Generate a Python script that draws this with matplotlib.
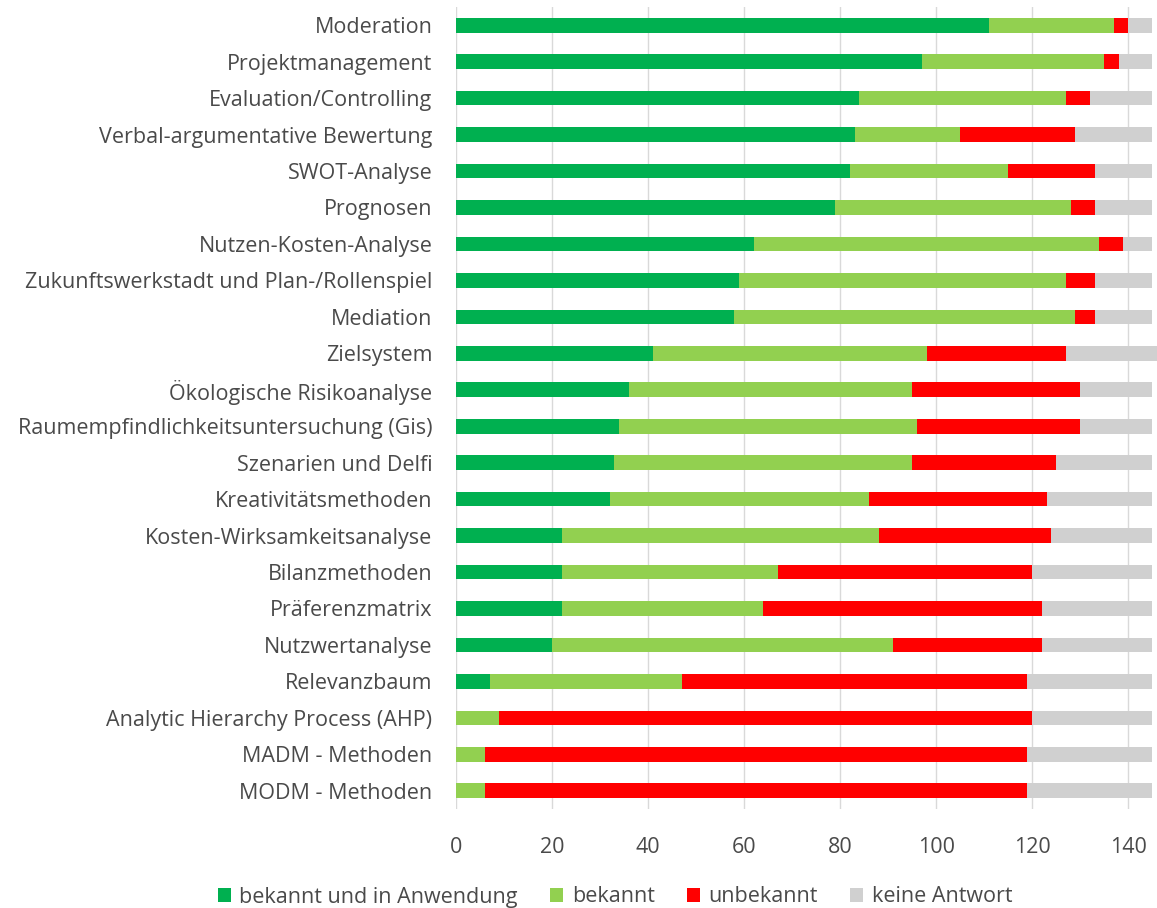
"""Bekanntheit und Anwendung von Planungsmethoden - gestapeltes Balkendiagramm."""

import matplotlib.pyplot as plt
import numpy as np

methods = [
    "Moderation",
    "Projektmanagement",
    "Evaluation/Controlling",
    "Verbal-argumentative Bewertung",
    "SWOT-Analyse",
    "Prognosen",
    "Nutzen-Kosten-Analyse",
    "Zukunftswerkstadt und Plan-/Rollenspiel",
    "Mediation",
    "Zielsystem",
    "Ökologische Risikoanalyse",
    "Raumempfindlichkeitsuntersuchung (Gis)",
    "Szenarien und Delfi",
    "Kreativitätsmethoden",
    "Kosten-Wirksamkeitsanalyse",
    "Bilanzmethoden",
    "Präferenzmatrix",
    "Nutzwertanalyse",
    "Relevanzbaum",
    "Analytic Hierarchy Process (AHP)",
    "MADM - Methoden",
    "MODM - Methoden",
]

in_use = [111, 97, 84, 83, 82, 79, 62, 59, 58, 41, 36, 34, 33, 32, 22, 22, 22, 20, 7, 0, 0, 0]
known = [26, 38, 43, 22, 33, 49, 72, 68, 71, 57, 59, 62, 62, 54, 66, 45, 42, 71, 40, 9, 6, 6]
unknown = [3, 3, 5, 24, 18, 5, 5, 6, 4, 29, 35, 34, 30, 37, 36, 53, 58, 31, 72, 111, 113, 113]
no_answer = [5, 7, 13, 16, 12, 12, 6, 12, 12, 20, 15, 15, 20, 22, 21, 25, 23, 23, 26, 25, 26, 26]

series = [
    ("bekannt und in Anwendung", in_use, "#00B050"),
    ("bekannt", known, "#92D050"),
    ("unbekannt", unknown, "#FF0000"),
    ("keine Antwort", no_answer, "#D0D0D0"),
]

TEXT = "#4A4A4A"
FS = 15.5
plt.rcParams["font.family"] = ["Open Sans", "DejaVu Sans"]

fig = plt.figure(figsize=(11.57, 9.08), dpi=100)
ax = fig.add_axes([456 / 1157, 1 - 809 / 908, 1 - 456 / 1157, (809 - 7) / 908])

y = np.arange(len(methods))
left = np.zeros(len(methods))
for name, vals, color in series:
    ax.barh(y, vals, left=left, height=0.4, color=color, label=name, zorder=3)
    left += np.array(vals)

ax.set_xlim(0, 146)
ax.set_ylim(len(methods) - 0.5, -0.5)
ax.set_yticks(y)
ax.set_yticklabels(methods, fontsize=FS, color=TEXT)
ax.set_xticks(range(0, 141, 20))
ax.tick_params(axis="x", labelsize=FS, labelcolor=TEXT, length=0, pad=20)
ax.tick_params(axis="y", length=0, pad=17)
ax.grid(axis="x", color="#D9D9D9", linewidth=1, zorder=0)
for s in ax.spines.values():
    s.set_visible(False)

leg = fig.legend(
    loc="center", bbox_to_anchor=(615 / 1157, 1 - 897 / 908), ncol=4,
    frameon=False, fontsize=FS, handlelength=0.6, handleheight=0.6,
    handletextpad=0.4, columnspacing=1.5,
)
for t in leg.get_texts():
    t.set_color(TEXT)

fig.savefig("out.png", dpi=100)
